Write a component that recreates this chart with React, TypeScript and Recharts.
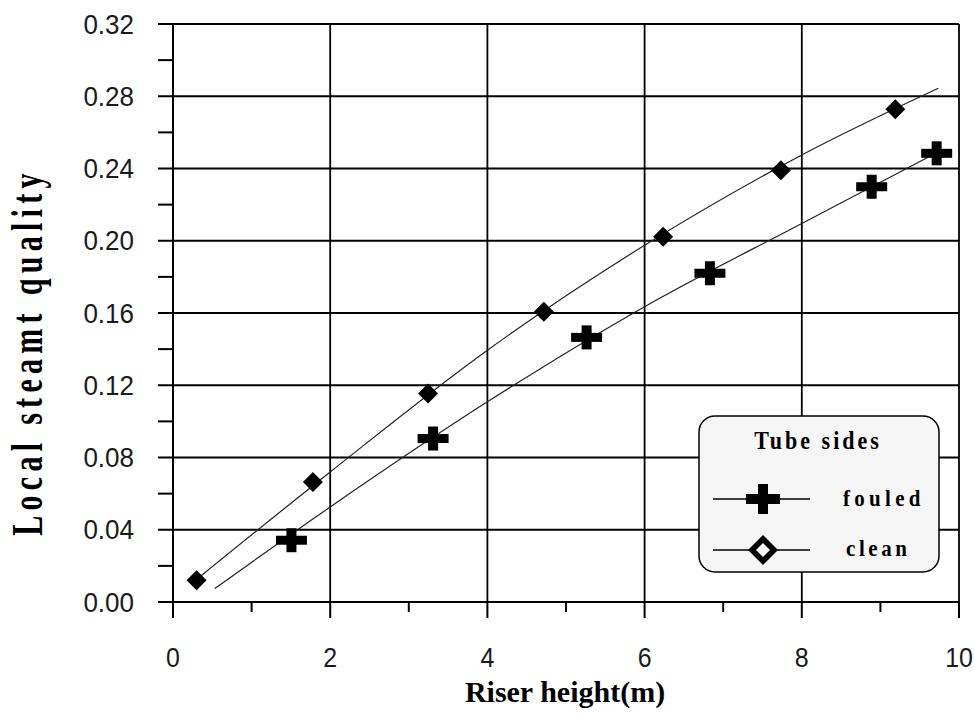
import React from 'react';
import { ComposedChart, XAxis, YAxis, Line, Scatter, CartesianGrid } from 'recharts';

// Axis ticks
const xMajorTicks = [0, 2, 4, 6, 8, 10];
const xMinorTicks = [1, 3, 5, 7, 9];
const yMajorTicks = [0, 0.04, 0.08, 0.12, 0.16, 0.2, 0.24, 0.28, 0.32];
const yMinorTicks = [0.02, 0.06, 0.1, 0.14, 0.18, 0.22, 0.26, 0.3];

// Measured points: clean tube sides (diamonds)
const cleanX = [0.3, 1.78, 3.245, 4.718, 6.236, 7.734, 9.19];
const cleanY = [0.012, 0.0665, 0.1155, 0.1607, 0.2022, 0.239, 0.2728];
// Measured points: fouled tube sides (plus)
const fouledX = [1.507, 3.309, 5.262, 6.831, 8.889, 9.716];
const fouledY = [0.0342, 0.0905, 0.1465, 0.182, 0.2299, 0.2484];

// Trend lines
const cleanTrendX = [0.3, 2, 4, 6, 8, 9.736];
const cleanTrendY = [0.0125, 0.072, 0.1394, 0.1975, 0.2475, 0.2844];
const fouledTrendX = [0.53, 2, 4, 6, 8, 9.72];
const fouledTrendY = [0.0074, 0.0526, 0.1108, 0.1635, 0.2096, 0.2488];

const legendTitle = 'Tube sides';
const seriesNames = ['fouled', 'clean'];
const xTitle = 'Riser height(m)';
const yTitle = 'Local steamt quality';

const toPts = (xs: number[], ys: number[]) => xs.map((x, i) => ({ x, y: ys[i] }));
const cleanPts = toPts(cleanX, cleanY);
const fouledPts = toPts(fouledX, fouledY);
const cleanTrend = toPts(cleanTrendX, cleanTrendY);
const fouledTrend = toPts(fouledTrendX, fouledTrendY);

const allX = [...xMajorTicks, ...xMinorTicks].sort((a, b) => a - b);
const allY = [...yMajorTicks, ...yMinorTicks].sort((a, b) => a - b);
const isIn = (arr: number[], v: number) => arr.some((t) => Math.abs(t - v) < 1e-9);

const tickFont = 'Liberation Sans, Arial, sans-serif';

const XTick = (props: any) => {
  const { x, y, payload } = props;
  const major = isIn(xMajorTicks, payload.value);
  return (
    <g>
      <line x1={x} x2={x} y1={y} y2={y + (major ? 16 : 10)} stroke="#000" strokeWidth={2} />
      {major && (
        <text
          transform={`translate(${x},${y + 65}) scale(0.96,1.06)`}
          textAnchor="middle"
          fontFamily={tickFont}
          fontSize={26}
          fill="#1a1a1a"
        >
          {payload.value}
        </text>
      )}
    </g>
  );
};

const YTick = (props: any) => {
  const { x, y, payload } = props;
  const major = isIn(yMajorTicks, payload.value);
  return (
    <g>
      <line x1={x - 15} x2={x} y1={y} y2={y} stroke="#000" strokeWidth={2} />
      {major && (
        <text
          transform={`translate(${x - 39},${y + 9.5}) scale(1,1.06)`}
          textAnchor="end"
          fontFamily={tickFont}
          fontSize={26}
          fill="#1a1a1a"
        >
          {Number(payload.value).toFixed(2)}
        </text>
      )}
    </g>
  );
};

const YTitle = () => (
  <text
    transform="translate(42,352) rotate(-90) scale(1,1.45)"
    x={0}
    y={0}
    textAnchor="middle"
    fontFamily="Liberation Serif, Times New Roman, serif"
    fontWeight="bold"
    fontSize={30}
    letterSpacing={5.3}
    fill="#000"
  >
    {yTitle}
  </text>
);

const XTitle = () => (
  <text
    x={565}
    y={702}
    textAnchor="middle"
    fontFamily="Liberation Serif, Times New Roman, serif"
    fontWeight="bold"
    fontSize={30}
    fill="#000"
  >
    {xTitle}
  </text>
);

const Diamond = (props: any) => {
  const { cx, cy } = props;
  const r = 10;
  return <polygon points={`${cx},${cy - r} ${cx + r},${cy} ${cx},${cy + r} ${cx - r},${cy}`} fill="#000" />;
};

const Plus = (props: any) => {
  const { cx, cy } = props;
  return (
    <g fill="#000">
      <rect x={cx - 15.5} y={cy - 4.5} width={31} height={9} />
      <rect x={cx - 5} y={cy - 12} width={10} height={24} />
    </g>
  );
};

const LegendBox = () => {
  const font = 'Liberation Serif, Times New Roman, serif';
  return (
    <svg width={242} height={158} style={{ position: 'absolute', left: 698, top: 415 }}>
      <rect x={1} y={1} width={240} height={156} rx={16} ry={16} fill="#f6f6f6" stroke="#000" strokeWidth={1.5} />
      <text transform="translate(120,34) scale(1,1.12)" textAnchor="middle" fontFamily={font} fontWeight="bold" fontSize={22} letterSpacing={3} fill="#000">
        {legendTitle}
      </text>
      <line x1={15} x2={112} y1={84} y2={84} stroke="#000" strokeWidth={1.5} />
      <rect x={65 - 17} y={84 - 5} width={34} height={10} fill="#000" />
      <rect x={65 - 5} y={84 - 15} width={10} height={30} fill="#000" />
      <text transform="translate(145,91) scale(1,1.1)" fontFamily={font} fontWeight="bold" fontSize={21} letterSpacing={4.3} fill="#000">
        {seriesNames[0]}
      </text>
      <line x1={15} x2={112} y1={135} y2={135} stroke="#000" strokeWidth={1.5} />
      <polygon points="65,120 80,135 65,150 50,135" fill="#000" />
      <polygon points="65,128 72,135 65,142 58,135" fill="#fff" />
      <text transform="translate(148,141) scale(1,1.1)" fontFamily={font} fontWeight="bold" fontSize={21} letterSpacing={3.6} fill="#000">
        {seriesNames[1]}
      </text>
    </svg>
  );
};

export default function App() {
  return (
    <div style={{ position: 'relative', width: 974, height: 713, background: '#fff' }}>
      <style>{'html,body{margin:0;padding:0;overflow:hidden;}'}</style>
      <ComposedChart width={974} height={713} margin={{ top: 24, right: 15, left: 0, bottom: 0 }} style={{ overflow: 'visible' }}>
        <CartesianGrid
          horizontalValues={yMajorTicks}
          verticalValues={xMajorTicks}
          stroke="#000"
          strokeWidth={1.8}
          fill="none"
        />
        <XAxis
          dataKey="x"
          type="number"
          domain={[0, 10]}
          ticks={allX}
          interval={0}
          tickSize={0}
          tickMargin={0}
          tick={<XTick />}
          height={111}
          axisLine={{ stroke: '#000', strokeWidth: 2 }}
          allowDataOverflow
          label={<XTitle />}
        />
        <YAxis
          type="number"
          domain={[0, 0.32]}
          ticks={allY}
          interval={0}
          tickSize={0}
          tickMargin={0}
          tick={<YTick />}
          width={173}
          axisLine={{ stroke: '#000', strokeWidth: 2 }}
          allowDataOverflow
          label={<YTitle />}
        />
        <Line data={cleanTrend} dataKey="y" type="monotone" stroke="#222" strokeWidth={1.2} dot={false} isAnimationActive={false} legendType="none" />
        <Line data={fouledTrend} dataKey="y" type="monotone" stroke="#222" strokeWidth={1.2} dot={false} isAnimationActive={false} legendType="none" />
        <Scatter data={cleanPts} dataKey="y" shape={<Diamond />} isAnimationActive={false} />
        <Scatter data={fouledPts} dataKey="y" shape={<Plus />} isAnimationActive={false} />
      </ComposedChart>
      <LegendBox />
    </div>
  );
}
